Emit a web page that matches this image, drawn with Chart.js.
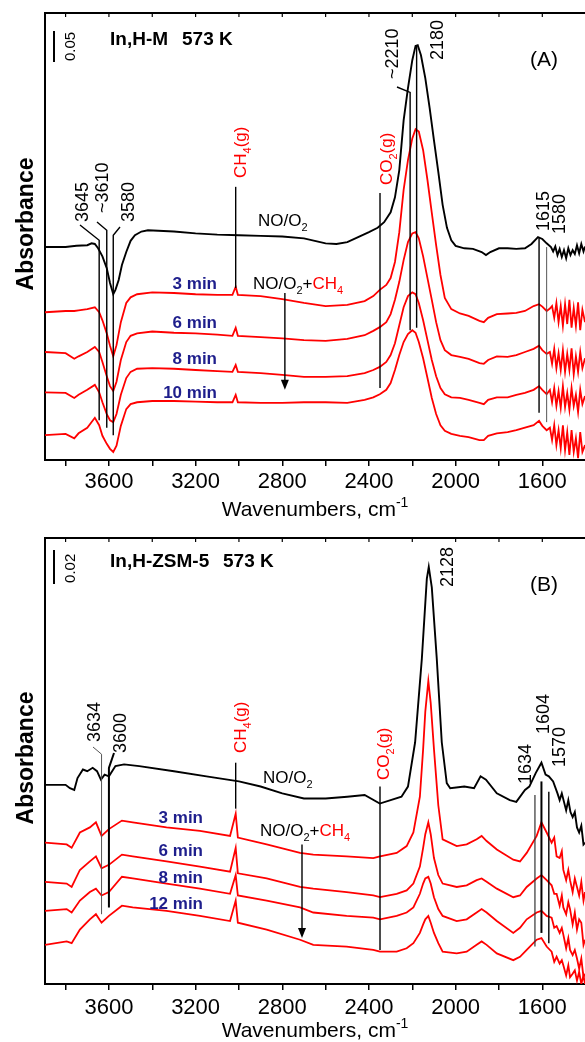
<!DOCTYPE html>
<html><head><meta charset="utf-8">
<script src="https://cdn.jsdelivr.net/npm/chart.js@4.4.1/dist/chart.umd.min.js"></script>
<style>html,body{margin:0;padding:0;background:#fff;overflow:hidden}canvas{display:block}</style>
</head><body>
<canvas id="chartA" width="585" height="520"></canvas>
<canvas id="chartB" width="585" height="522"></canvas>
<script>
// ---------- x axis (wavenumbers, cm-1) ----------
const xRange = [1403, 3895];
const xTickValues = [1600,1800,2000,2200,2400,2600,2800,3000,3200,3400,3600,3800];
const xTickLabels = [1600,2000,2400,2800,3200,3600];

// ---------- Panel A: In,H-M 573 K (absorbance) ----------
const wnA_black = [3895,3800,3750,3700,3680,3665,3650,3630,3610,3595,
  3580,3570,3555,3540,3520,3500,3480,3450,3420,3300,
  3200,3100,3000,2900,2800,2700,2650,2600,2550,2500,
  2450,2400,2360,2330,2300,2280,2260,2240,2220,2200,
  2185,2175,2160,2140,2120,2100,2080,2060,2040,2020,
  2000,1960,1920,1880,1860,1840,1800,1760,1720,1680,
  1650,1620,1600,1580,1560,1550,1540,1530,1520,1510,
  1500,1490,1480,1470,1460,1450,1440,1430,1420,1410,
  1403];
const absA_NO_O2 = [0.343,0.343,0.345,0.346,0.349,0.348,0.341,0.328,0.309,0.285,
  0.267,0.274,0.290,0.314,0.335,0.353,0.362,0.368,0.370,0.368,
  0.365,0.363,0.362,0.361,0.360,0.357,0.353,0.349,0.348,0.351,
  0.359,0.367,0.374,0.383,0.399,0.423,0.467,0.547,0.599,0.644,
  0.667,0.668,0.652,0.615,0.567,0.515,0.464,0.411,0.374,0.354,
  0.345,0.341,0.340,0.335,0.330,0.335,0.341,0.341,0.340,0.341,
  0.348,0.359,0.356,0.349,0.343,0.336,0.344,0.330,0.340,0.327,
  0.338,0.325,0.341,0.330,0.338,0.332,0.346,0.333,0.348,0.336,
  0.344];
const wnA_red = [3895,3800,3760,3740,3700,3665,3645,3630,3610,3595,
  3580,3565,3545,3520,3500,3470,3400,3300,3200,3100,
  3030,3015,3005,2900,2800,2700,2600,2500,2420,2380,
  2350,2320,2300,2280,2260,2240,2220,2200,2185,2170,
  2150,2130,2110,2090,2070,2050,2020,1980,1940,1890,
  1870,1850,1810,1760,1720,1680,1640,1615,1600,1580,
  1565,1555,1545,1535,1525,1515,1505,1495,1485,1475,
  1465,1455,1445,1435,1425,1415,1403];
const absA_3min = [0.238,0.240,0.240,0.241,0.243,0.246,0.238,0.225,0.204,0.184,
  0.167,0.185,0.222,0.253,0.262,0.267,0.270,0.269,0.267,0.266,
  0.266,0.279,0.266,0.264,0.259,0.253,0.248,0.250,0.256,0.264,
  0.274,0.282,0.293,0.319,0.367,0.435,0.483,0.518,0.533,0.529,
  0.499,0.451,0.398,0.346,0.298,0.261,0.243,0.236,0.232,0.224,
  0.222,0.229,0.235,0.236,0.237,0.240,0.248,0.251,0.247,0.240,
  0.244,0.248,0.229,0.253,0.222,0.248,0.216,0.251,0.219,0.258,
  0.213,0.245,0.216,0.254,0.209,0.242,0.222];
const absA_6min = [0.174,0.172,0.163,0.167,0.174,0.182,0.174,0.158,0.135,0.119,
  0.111,0.126,0.161,0.190,0.200,0.204,0.207,0.205,0.204,0.202,
  0.200,0.213,0.200,0.198,0.196,0.193,0.192,0.195,0.201,0.208,
  0.214,0.222,0.235,0.258,0.287,0.322,0.351,0.365,0.367,0.357,
  0.328,0.293,0.258,0.222,0.193,0.177,0.169,0.166,0.163,0.156,
  0.155,0.161,0.167,0.166,0.169,0.174,0.179,0.184,0.177,0.171,
  0.174,0.155,0.179,0.148,0.172,0.145,0.177,0.142,0.171,0.145,
  0.180,0.138,0.167,0.142,0.174,0.148,0.164];
const absA_8min = [0.109,0.108,0.100,0.105,0.113,0.121,0.109,0.093,0.074,0.064,
  0.061,0.074,0.105,0.132,0.142,0.147,0.148,0.147,0.145,0.143,
  0.142,0.153,0.142,0.140,0.137,0.134,0.134,0.135,0.140,0.145,
  0.150,0.158,0.169,0.188,0.217,0.246,0.264,0.270,0.267,0.253,
  0.225,0.193,0.161,0.135,0.116,0.106,0.101,0.100,0.097,0.092,
  0.090,0.097,0.101,0.101,0.105,0.108,0.113,0.119,0.113,0.106,
  0.113,0.093,0.116,0.087,0.111,0.084,0.119,0.085,0.108,0.081,
  0.116,0.087,0.105,0.077,0.113,0.090,0.103];
const absA_10min = [0.040,0.042,0.035,0.043,0.052,0.068,0.056,0.039,0.026,0.018,
  0.013,0.023,0.055,0.082,0.090,0.093,0.095,0.095,0.094,0.093,
  0.093,0.105,0.093,0.092,0.092,0.093,0.093,0.092,0.097,0.101,
  0.106,0.113,0.124,0.145,0.169,0.190,0.203,0.209,0.205,0.190,
  0.164,0.132,0.100,0.074,0.056,0.047,0.042,0.039,0.037,0.032,
  0.032,0.039,0.043,0.045,0.048,0.052,0.056,0.063,0.055,0.048,
  0.052,0.032,0.056,0.024,0.048,0.019,0.056,0.016,0.045,0.008,
  0.048,0.013,0.035,0.003,0.045,0.013,0.024];

// ---------- Panel B: In,H-ZSM-5 573 K (absorbance) ----------
const wnB_black = [3895,3800,3780,3760,3745,3720,3700,3675,3655,3637,
  3620,3600,3570,3530,3460,3300,3150,3000,2900,2800,
  2700,2600,2500,2420,2350,2300,2250,2220,2187,2156,
  2133,2124,2110,2087,2064,2041,2025,1960,1915,1885,
  1860,1810,1750,1720,1680,1660,1630,1604,1585,1570,
  1550,1530,1520,1510,1490,1480,1470,1460,1450,1440,
  1430,1420,1410,1403];
const absB_NO_O2 = [0.117,0.117,0.115,0.114,0.121,0.126,0.125,0.127,0.125,0.120,
  0.123,0.122,0.128,0.129,0.128,0.125,0.122,0.119,0.116,0.112,
  0.109,0.109,0.110,0.111,0.106,0.108,0.110,0.116,0.142,0.191,
  0.238,0.245,0.233,0.191,0.142,0.118,0.115,0.116,0.115,0.122,
  0.120,0.112,0.108,0.107,0.114,0.116,0.124,0.130,0.123,0.122,
  0.119,0.112,0.108,0.112,0.102,0.108,0.101,0.098,0.101,0.092,
  0.089,0.093,0.082,0.083];
const wnB_red = [3895,3795,3772,3734,3688,3660,3634,3600,3540,3490,
  3334,3180,3041,3015,3005,2872,2718,2657,2503,2380,
  2349,2272,2226,2195,2165,2150,2140,2126,2115,2100,
  2080,2060,1995,1949,1903,1880,1857,1810,1734,1703,
  1672,1626,1604,1580,1557,1545,1534,1520,1510,1503,
  1490,1480,1472,1460,1450,1440,1430,1420,1410,1403];
const absB_3min = [0.083,0.082,0.080,0.089,0.092,0.095,0.087,0.091,0.096,0.095,
  0.092,0.090,0.087,0.100,0.086,0.082,0.077,0.076,0.075,0.074,
  0.075,0.077,0.081,0.089,0.110,0.138,0.160,0.178,0.165,0.138,
  0.105,0.085,0.081,0.082,0.085,0.087,0.084,0.079,0.073,0.072,
  0.077,0.087,0.095,0.089,0.083,0.086,0.075,0.074,0.078,0.067,
  0.061,0.067,0.061,0.054,0.062,0.057,0.052,0.060,0.049,0.054];
const absB_6min = [0.060,0.059,0.057,0.067,0.072,0.075,0.068,0.070,0.076,0.075,
  0.072,0.069,0.066,0.080,0.065,0.062,0.057,0.056,0.054,0.052,
  0.051,0.053,0.055,0.059,0.069,0.080,0.088,0.095,0.088,0.074,
  0.064,0.059,0.057,0.058,0.061,0.062,0.060,0.056,0.051,0.052,
  0.057,0.062,0.064,0.061,0.058,0.053,0.053,0.046,0.052,0.045,
  0.041,0.048,0.044,0.035,0.042,0.032,0.038,0.036,0.023,0.026];
const absB_8min = [0.043,0.044,0.042,0.049,0.054,0.056,0.052,0.054,0.063,0.062,
  0.059,0.056,0.053,0.064,0.052,0.049,0.045,0.042,0.040,0.039,
  0.038,0.040,0.042,0.045,0.053,0.059,0.062,0.063,0.059,0.051,
  0.044,0.040,0.037,0.038,0.042,0.044,0.042,0.037,0.030,0.033,
  0.038,0.042,0.043,0.040,0.039,0.033,0.034,0.030,0.033,0.029,
  0.021,0.027,0.020,0.017,0.020,0.015,0.009,0.015,0.004,0.006];
const absB_12min = [0.023,0.025,0.024,0.032,0.038,0.041,0.036,0.040,0.046,0.045,
  0.043,0.040,0.037,0.049,0.036,0.032,0.026,0.023,0.022,0.020,
  0.019,0.019,0.021,0.024,0.030,0.035,0.038,0.040,0.036,0.030,
  0.024,0.019,0.018,0.019,0.023,0.025,0.023,0.018,0.014,0.016,
  0.020,0.026,0.027,0.022,0.019,0.013,0.016,0.012,0.014,0.011,
  0.005,0.011,0.004,0.006,0.008,0.002,0.007,0.000,0.005,0.000];

// ---------- drawing helpers ----------
const FONT = '"Liberation Sans", Arial, Helvetica, sans-serif';
const RED = '#ff0000', NAVY = '#1e1e8c', BLACK = '#000000';
function pts(ws, vs){ return ws.map((w,i)=>({x:w, y:vs[i]})); }
function fontStr(size, bold){ return (bold ? 'bold ' : '') + size + 'px ' + FONT; }
// segs: [text, color, mode] mode 0 normal, 1 subscript, 2 superscript
function drawRich(ctx, segs, x, y, size, bold, align){
  const sizes = segs.map(s => s[2] ? Math.round(size*0.66) : size);
  const widths = segs.map((s,i) => { ctx.font = fontStr(sizes[i], bold); return ctx.measureText(s[0]).width; });
  const total = widths.reduce((a,b)=>a+b,0);
  let cx = align === 'right' ? x - total : align === 'center' ? x - total/2 : x;
  ctx.textAlign = 'left'; ctx.textBaseline = 'alphabetic';
  segs.forEach((s,i) => {
    ctx.font = fontStr(sizes[i], bold);
    ctx.fillStyle = s[1] || BLACK;
    const dy = s[2] === 1 ? size*0.28 : s[2] === 2 ? -size*0.42 : 0;
    ctx.fillText(s[0], cx, y + dy);
    cx += widths[i];
  });
}
function drawRot(ctx, segs, cx, y, size, bold, align){
  ctx.save(); ctx.translate(cx, y); ctx.rotate(-Math.PI/2);
  drawRich(ctx, segs, 0, size*0.36, size, bold, align || 'left');
  ctx.restore();
}

function annotPlugin(cfg){
  return { id: 'annot' + cfg.name, afterDraw(chart){
    const ctx = chart.ctx, xs = chart.scales.x, ys = chart.scales.y, a = chart.chartArea;
    ctx.save();
    ctx.strokeStyle = BLACK; ctx.lineCap = 'butt';
    // top frame + inner ticks
    ctx.lineWidth = 2;
    ctx.beginPath(); ctx.moveTo(a.left - 1, a.top); ctx.lineTo(a.right + 1, a.top); ctx.stroke();
    ctx.lineWidth = 1.2;
    xTickValues.forEach(v => { const p = xs.getPixelForValue(v); ctx.beginPath(); ctx.moveTo(p, a.top); ctx.lineTo(p, a.top + 4); ctx.stroke(); });
    // scale bar
    ctx.lineWidth = 2;
    ctx.beginPath(); ctx.moveTo(54, ys.getPixelForValue(cfg.bar.top)); ctx.lineTo(54, ys.getPixelForValue(cfg.bar.top - cfg.bar.len)); ctx.stroke();
    drawRot(ctx, [[cfg.bar.label]], 70, ys.getPixelForValue(cfg.bar.top - cfg.bar.len) - 1, 15, false, 'left');
    // band marker lines
    cfg.lines.forEach(L => {
      const p = xs.getPixelForValue(L.w), y1 = ys.getPixelForValue(L.y1), y2 = ys.getPixelForValue(L.y2);
      ctx.strokeStyle = L.c || BLACK; ctx.lineWidth = L.lw || 1.4;
      ctx.beginPath();
      if (L.from) { ctx.moveTo(L.from[0], L.from[1]); ctx.lineTo(p, y1); } else { ctx.moveTo(p, y1); }
      ctx.lineTo(p, y2); ctx.stroke();
    });
    // arrow
    const ax = xs.getPixelForValue(cfg.arrow.w), ay1 = ys.getPixelForValue(cfg.arrow.y1), ay2 = ys.getPixelForValue(cfg.arrow.y2);
    ctx.strokeStyle = BLACK; ctx.fillStyle = BLACK; ctx.lineWidth = 1.4;
    ctx.beginPath(); ctx.moveTo(ax, ay1); ctx.lineTo(ax, ay2 - 8); ctx.stroke();
    ctx.beginPath(); ctx.moveTo(ax - 4, ay2 - 10); ctx.lineTo(ax + 4, ay2 - 10); ctx.lineTo(ax, ay2); ctx.closePath(); ctx.fill();
    // texts
    cfg.texts.forEach(T => {
      if (T.rot) drawRot(ctx, T.s, T.x, T.y, T.size, T.bold, T.align);
      else drawRich(ctx, T.s, T.x, T.y, T.size, T.bold, T.align);
    });
    ctx.restore();
  }};
}

function makeChart(id, datasets, yMax, padTop, xHeight, cfg){
  return new Chart(document.getElementById(id), {
    type: 'line',
    data: { datasets },
    options: {
      responsive: false, animation: false, devicePixelRatio: 1,
      layout: { padding: { top: padTop, right: 0, left: 0, bottom: 0 } },
      plugins: { legend: { display: false }, tooltip: { enabled: false } },
      elements: { point: { radius: 0 }, line: { borderWidth: 1.8, tension: 0 } },
      scales: {
        x: { type: 'linear', reverse: true, min: xRange[0], max: xRange[1],
          afterBuildTicks: s => { s.ticks = xTickValues.map(v => ({ value: v })); },
          afterFit: s => { s.height = xHeight; },
          ticks: { autoSkip: false, maxRotation: 0, padding: cfg.tickPad, color: BLACK,
            font: { family: FONT, size: 22 },
            callback: v => xTickLabels.includes(v) ? String(v) : '' },
          grid: { display: true, drawOnChartArea: false, drawTicks: true, tickLength: 6, color: BLACK, lineWidth: 1.5 },
          border: { display: true, color: BLACK, width: 2 } },
        y: { type: 'linear', min: 0, max: yMax,
          ticks: { display: false }, grid: { display: false, drawTicks: false },
          border: { display: true, color: BLACK, width: 2 },
          afterFit: s => { s.width = 45; } }
      }
    },
    plugins: [annotPlugin(cfg)]
  });
}

const line = (ws, vs, color) => ({ data: pts(ws, vs), borderColor: color, borderWidth: color === BLACK ? 1.9 : 1.8, fill: false });

// ---------- Panel A ----------
makeChart('chartA', [
  line(wnA_black, absA_NO_O2, BLACK),
  line(wnA_red, absA_3min, RED),
  line(wnA_red, absA_6min, RED),
  line(wnA_red, absA_8min, RED),
  line(wnA_red, absA_10min, RED)
], 0.72, 13, 60, {
  name: 'A', tickPad: 3,
  bar: { top: 0.691, len: 0.05, label: '0.05' },
  lines: [
    { w: 3645, y1: 0.354, y2: 0.064, from: [80, 225] },
    { w: 3610, y1: 0.370, y2: 0.052, from: [97, 222] },
    { w: 3580, y1: 0.362, y2: 0.040, from: [120, 227] },
    { w: 3015, y1: 0.440, y2: 0.277 },
    { w: 2349, y1: 0.430, y2: 0.116 },
    { w: 2210, y1: 0.592, y2: 0.209, from: [397, 87] },
    { w: 2180, y1: 0.668, y2: 0.213 },
    { w: 1615, y1: 0.359, y2: 0.076 },
    { w: 1580, y1: 0.343, y2: 0.061, c: '#555', lw: 1 }
  ],
  arrow: { w: 2788, y1: 0.269, y2: 0.113 },
  texts: [
    { s: [['In,H-M']], x: 110, y: 45, size: 19, bold: true },
    { s: [['573 K']], x: 182, y: 45, size: 19, bold: true },
    { s: [['(A)']], x: 530, y: 66, size: 21 },
    { s: [['Absorbance']], x: 25, y: 224, size: 23, bold: true, rot: true, align: 'center' },
    { s: [['Wavenumbers, cm'], ['-1', BLACK, 2]], x: 315, y: 516, size: 21, align: 'center' },
    { s: [['3645']], x: 81.5, y: 222, size: 18, rot: true },
    { s: [['~3610']], x: 101.5, y: 213, size: 18, rot: true },
    { s: [['3580']], x: 127.5, y: 222, size: 18, rot: true },
    { s: [['~2210']], x: 391.5, y: 79, size: 18, rot: true },
    { s: [['2180']], x: 436.5, y: 60, size: 18, rot: true },
    { s: [['1615']], x: 543, y: 231, size: 18, rot: true },
    { s: [['1580']], x: 559, y: 234, size: 18, rot: true },
    { s: [['CH', RED], ['4', RED, 1], ['(g)', RED]], x: 240, y: 178, size: 17, rot: true },
    { s: [['CO', RED], ['2', RED, 1], ['(g)', RED]], x: 386, y: 185, size: 17, rot: true },
    { s: [['NO/O'], ['2', BLACK, 1]], x: 258, y: 226, size: 17 },
    { s: [['NO/O'], ['2', BLACK, 1], ['+'], ['CH', RED], ['4', RED, 1]], x: 253, y: 289, size: 17 },
    { s: [['3 min', NAVY]], x: 217, y: 289, size: 17, bold: true, align: 'right' },
    { s: [['6 min', NAVY]], x: 217, y: 328, size: 17, bold: true, align: 'right' },
    { s: [['8 min', NAVY]], x: 217, y: 364, size: 17, bold: true, align: 'right' },
    { s: [['10 min', NAVY]], x: 217, y: 398, size: 17, bold: true, align: 'right' }
  ]
});

// ---------- Panel B ----------
makeChart('chartB', [
  line(wnB_black, absB_NO_O2, BLACK),
  line(wnB_red, absB_3min, RED),
  line(wnB_red, absB_6min, RED),
  line(wnB_red, absB_8min, RED),
  line(wnB_red, absB_12min, RED)
], 0.262, 18, 58, {
  name: 'B', tickPad: 5,
  bar: { top: 0.255, len: 0.02, label: '0.02' },
  lines: [
    { w: 3634, y1: 0.135, y2: 0.041, from: [93, 227], c: '#555', lw: 1 },
    { w: 3600, y1: 0.127, y2: 0.045, from: [114, 233], lw: 2 },
    { w: 3015, y1: 0.130, y2: 0.103 },
    { w: 2349, y1: 0.116, y2: 0.020 },
    { w: 1634, y1: 0.111, y2: 0.022, c: '#333', lw: 1.2 },
    { w: 1604, y1: 0.119, y2: 0.030, lw: 2 },
    { w: 1570, y1: 0.113, y2: 0.024 }
  ],
  arrow: { w: 2709, y1: 0.082, y2: 0.027 },
  texts: [
    { s: [['In,H-ZSM-5']], x: 110, y: 47, size: 19, bold: true },
    { s: [['573 K']], x: 223, y: 47, size: 19, bold: true },
    { s: [['(B)']], x: 530, y: 71, size: 21 },
    { s: [['Absorbance']], x: 25, y: 238, size: 23, bold: true, rot: true, align: 'center' },
    { s: [['Wavenumbers, cm'], ['-1', BLACK, 2]], x: 315, y: 517, size: 21, align: 'center' },
    { s: [['3634']], x: 94, y: 222, size: 18, rot: true },
    { s: [['3600']], x: 119.5, y: 233, size: 18, rot: true },
    { s: [['2128']], x: 447, y: 67, size: 18, rot: true },
    { s: [['1634']], x: 525, y: 264, size: 18, rot: true },
    { s: [['1604']], x: 543, y: 214, size: 18, rot: true },
    { s: [['1570']], x: 559, y: 247, size: 18, rot: true },
    { s: [['CH', RED], ['4', RED, 1], ['(g)', RED]], x: 240, y: 233, size: 17, rot: true },
    { s: [['CO', RED], ['2', RED, 1], ['(g)', RED]], x: 383, y: 260, size: 17, rot: true },
    { s: [['NO/O'], ['2', BLACK, 1]], x: 263, y: 263, size: 17 },
    { s: [['NO/O'], ['2', BLACK, 1], ['+'], ['CH', RED], ['4', RED, 1]], x: 260, y: 316, size: 17 },
    { s: [['3 min', NAVY]], x: 203, y: 303, size: 17, bold: true, align: 'right' },
    { s: [['6 min', NAVY]], x: 203, y: 336, size: 17, bold: true, align: 'right' },
    { s: [['8 min', NAVY]], x: 203, y: 363, size: 17, bold: true, align: 'right' },
    { s: [['12 min', NAVY]], x: 203, y: 389, size: 17, bold: true, align: 'right' }
  ]
});
</script>
</body></html>
